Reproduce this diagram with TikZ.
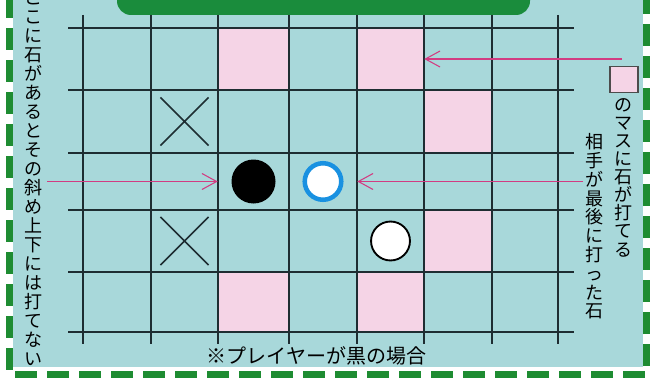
\documentclass[tikz,border=0pt]{standalone}
\usepackage{fontspec}
\newfontfamily\jpfont{Noto Sans CJK JP}
\usepackage{xcolor}
\usepackage{tikz}
\usetikzlibrary{arrows.meta,shapes.misc,fit}
\definecolor{boardteal}{HTML}{A8D8DA}
\definecolor{cellpink}{HTML}{F5D4E6}
\definecolor{frameG}{HTML}{1E8C32}
\definecolor{bannerG}{HTML}{1A8C3C}
\definecolor{pointerM}{HTML}{D23C82}
\definecolor{lastblue}{HTML}{1991E1}
\definecolor{gridink}{HTML}{1E2D32}

\begin{document}
\begin{tikzpicture}[x=0.75pt, y=-0.75pt,
    gridline/.style={draw=gridink, line width=1.1pt},
    pinkcell/.style={fill=cellpink, draw=none, inner sep=0pt},
    cellbox/.style={draw=none, inner sep=0pt},
    xmark/.style={cross out, draw=gridink, line width=1.1pt, minimum size=35pt, inner sep=0pt},
    blackstone/.style={circle, fill=black, minimum size=33pt, inner sep=0pt},
    laststone/.style={circle, draw=lastblue, line width=3.4pt, fill=white, minimum size=27.4pt, inner sep=0pt},
    whitestone/.style={circle, draw=black, line width=1.4pt, fill=white, minimum size=29.2pt, inner sep=0pt},
    pointer/.style={draw=pointerM, line width=0.8pt, -{Straight Barb[length=11pt,width=12pt]}},
    tate/.style={align=center, inner sep=0pt, font=\jpfont\fontsize{13.5pt}{#1}\selectfont}
]
\useasboundingbox (0,0) rectangle (650,378);
\clip (0,0) rectangle (650,378);

% ---- background ----
\fill[white] (0,0) rectangle (650,378);
\fill[boardteal] (13,0) rectangle (643,367);
\fill[bannerG, rounded corners=10.5pt] (117,-40) rectangle (530,15);

% ---- grid corners ----
\foreach \c/\xx in {0/83,1/151,2/218,3/289,4/357,5/424,6/492,7/558}
  \foreach \r/\yy in {0/28,1/90,2/153,3/210,4/272,5/332}
    \coordinate (g\c\r) at (\xx,\yy);

% ---- pink cells ----
\node[pinkcell, fit=(g20)(g31)] (p1) {};
\node[pinkcell, fit=(g40)(g51)] (p2) {};
\node[pinkcell, fit=(g51)(g62)] (p3) {};
\node[pinkcell, fit=(g53)(g64)] (p4) {};
\node[pinkcell, fit=(g24)(g35)] (p5) {};
\node[pinkcell, fit=(g44)(g55)] (p6) {};

% ---- grid ----
\foreach \xx in {83,151,218,289,357,424,492,558}
  \draw[gridline] (\xx,15) -- (\xx,344);
\foreach \yy in {28,90,153,210,272,332}
  \draw[gridline] (68,\yy) -- (574,\yy);

% ---- cells with marks and stones ----
\node[cellbox, fit=(g11)(g22)] (k22) {};
\node[cellbox, fit=(g13)(g24)] (k24) {};
\node[cellbox, fit=(g22)(g33)] (k33) {};
\node[cellbox, fit=(g32)(g43)] (k43) {};
\node[cellbox, fit=(g43)(g54)] (k54) {};
\node[xmark] (x1) at (k22) {};
\node[xmark] (x2) at (k24) {};
\node[blackstone] (black) at (k33) {};
\node[laststone] (last) at (k43) {};
\node[whitestone] (white) at (k54) {};

% ---- notes ----
\node[tate=14.25pt] (leftnote) at (33,178.5) {こ\\こ\\に\\石\\が\\あ\\る\\と\\そ\\の\\斜\\め\\上\\下\\に\\は\\打\\て\\な\\い};
\node[draw=gray!60!black, fill=cellpink, line width=0.9pt, minimum width=21pt, minimum height=19pt, inner sep=0pt] (key) at (624,79.5) {};
\node[tate=13.6pt] (keynote) at (623,177.5) {の\\マ\\ス\\に\\石\\が\\打\\て\\る};
\node[tate=14.1pt] (lastnote) at (594,226.5) {相\\手\\が\\最\\後\\に\\打\\っ\\た\\石};
\node[font=\jpfont\fontsize{15pt}{18pt}\selectfont, inner sep=0pt] (case) at (316.5,356) {※プレイヤーが黒の場合};

% ---- arrows ----
\coordinate (lt) at (47,181.5);
\coordinate (rq) at (622,59);
\coordinate (rt) at (583,181.5);
\draw[pointer] (lt) -- (k33.west);
\draw[pointer] (rq) -- (p2.east);
\draw[pointer] (rt) -- (k43.east);

% ---- frame ----
\draw[frameG, line width=5.25pt, dash pattern=on 16.5pt off 7.5pt] (9.5,-4) -- (9.5,374.5) -- (646.5,374.5) -- (646.5,-4);
\end{tikzpicture}
\end{document}
